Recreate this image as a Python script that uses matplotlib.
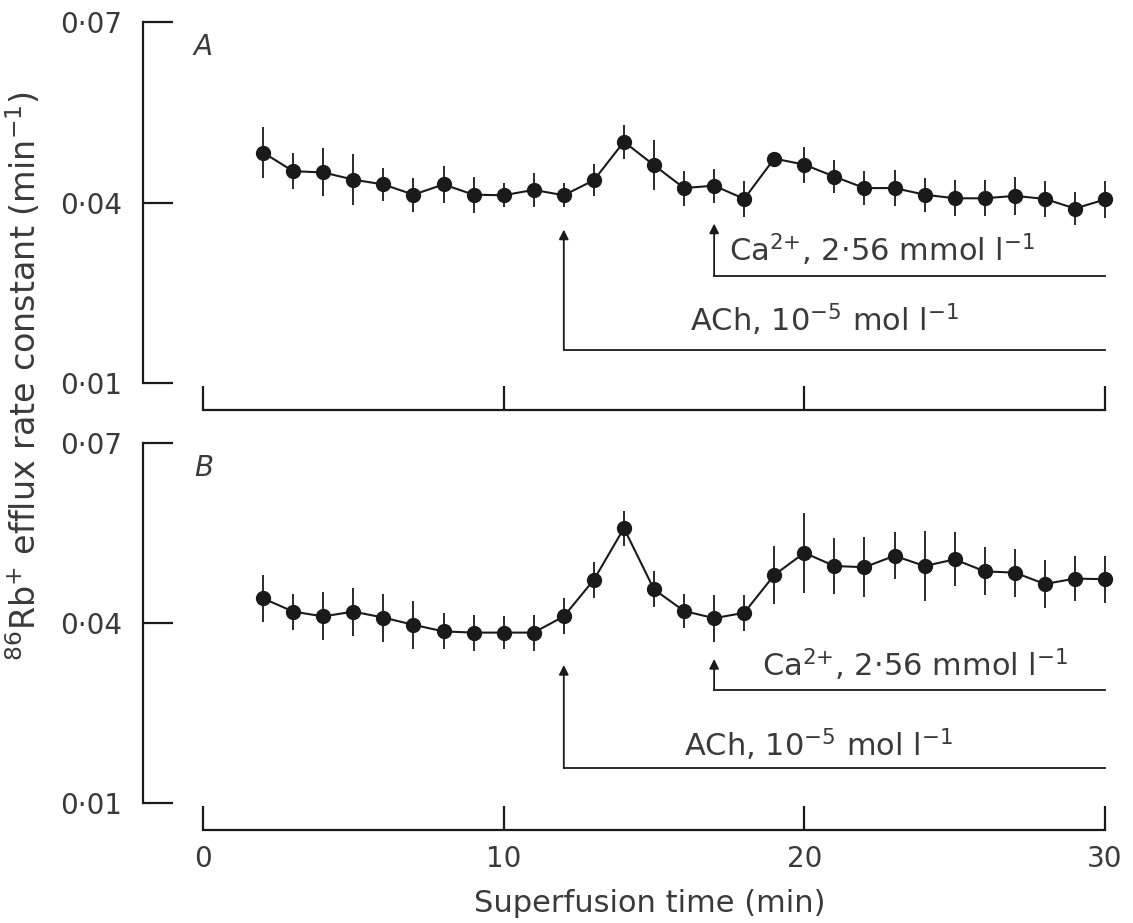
import matplotlib
matplotlib.use("Agg")
import matplotlib.pyplot as plt
import numpy as np

plt.rcParams['font.family'] = ['DejaVu Sans']
plt.rcParams['mathtext.default'] = 'regular'

# ---- data ----
time_min = list(range(2, 31))
rate_A = [0.0483, 0.0452, 0.0450, 0.0438, 0.0430, 0.0413, 0.0430, 0.0413, 0.0412,
          0.0421, 0.0412, 0.0437, 0.0501, 0.0462, 0.0424, 0.0428, 0.0406, 0.0473,
          0.0463, 0.0443, 0.0424, 0.0424, 0.0413, 0.0407, 0.0407, 0.0411, 0.0406,
          0.0390, 0.0405]
err_A = [0.0042, 0.0030, 0.0040, 0.0042, 0.0028, 0.0028, 0.0030, 0.0030, 0.0020,
         0.0028, 0.0020, 0.0027, 0.0028, 0.0042, 0.0029, 0.0028, 0.0030, 0.0000,
         0.0030, 0.0028, 0.0028, 0.0030, 0.0028, 0.0030, 0.0030, 0.0032, 0.0030,
         0.0028, 0.0030]
rate_B = [0.0441, 0.0419, 0.0411, 0.0419, 0.0409, 0.0397, 0.0386, 0.0384, 0.0384,
          0.0384, 0.0411, 0.0472, 0.0558, 0.0456, 0.0420, 0.0408, 0.0417, 0.0480,
          0.0517, 0.0495, 0.0493, 0.0512, 0.0495, 0.0506, 0.0486, 0.0484, 0.0465,
          0.0474, 0.0473]
err_B = [0.0039, 0.0030, 0.0040, 0.0040, 0.0040, 0.0040, 0.0030, 0.0030, 0.0028,
         0.0030, 0.0030, 0.0030, 0.0029, 0.0030, 0.0028, 0.0039, 0.0030, 0.0049,
         0.0067, 0.0047, 0.0050, 0.0039, 0.0059, 0.0045, 0.0040, 0.0040, 0.0040,
         0.0038, 0.0039]

x_ticks = [0, 10, 20, 30]
y_ticks = [0.01, 0.04, 0.07]
y_ticklabels = ['0·01', '0·04', '0·07']
panel_labels = ['A', 'B']

ach_time = 12
ca_time = 17
end_time = 30
ach_text = r'ACh, 10$^{-5}$ mol l$^{-1}$'
ca_text = r'Ca$^{2{+}}$, 2·56 mmol l$^{-1}$'

# annotation geometry per panel: (ach_line_y, ach_tip_y, ach_text_x, ach_text_y,
#                                  ca_line_y, ca_tip_y, ca_text_x, ca_text_y)
ann_A = (0.0155, 0.0355, 16.2, 0.0205, 0.0278, 0.0365, 17.5, 0.0322)
ann_B = (0.0158, 0.0330, 16.0, 0.0197, 0.0288, 0.0340, 18.6, 0.0330)

W, H = 1133, 923
fig = plt.figure(figsize=(W / 100, H / 100), dpi=100)

def fx(px):
    return px / W

def fy(py):
    return 1 - py / H

axA = fig.add_axes([fx(203), fy(383), fx(1105) - fx(203), fy(22) - fy(383)])
axB = fig.add_axes([fx(203), fy(803), fx(1105) - fx(203), fy(443) - fy(803)])

ink = '#1a1a1a'
txt = '#3a3a3a'
fs = 20
fs_ann = 22

for ax, rate, err, lab, ann in [(axA, rate_A, err_A, panel_labels[0], ann_A),
                                (axB, rate_B, err_B, panel_labels[1], ann_B)]:
    ax.errorbar(time_min, rate, yerr=err, fmt='o-', color=ink, ecolor=ink,
                markersize=10, linewidth=1.5, elinewidth=1.3, capsize=0,
                clip_on=False, zorder=3)
    ax.set_xlim(0, 30)
    ax.set_ylim(0.01, 0.07)
    for s in ['top', 'right']:
        ax.spines[s].set_visible(False)
    ax.spines['left'].set_position(('outward', 43))
    ax.spines['bottom'].set_position(('outward', 19.5))
    for s in ['left', 'bottom']:
        ax.spines[s].set_linewidth(1.6)
        ax.spines[s].set_color(ink)
    ax.set_yticks(y_ticks)
    ax.set_yticklabels(y_ticklabels)
    ax.set_xticks(x_ticks)
    ax.tick_params(axis='y', direction='in', length=21.5, width=1.6, pad=15,
                   labelsize=fs, colors=ink, labelcolor=txt)
    ax.tick_params(axis='x', direction='in', length=17, width=1.6, pad=11,
                   labelsize=fs, colors=ink, labelcolor=txt)
    ax.text(-0.3, 0.0658, lab, fontsize=fs, style='italic', color=txt,
            ha='left', va='center')

    ach_line, ach_tip, ach_tx, ach_ty, ca_line, ca_tip, ca_tx, ca_ty = ann
    # ACh bracket
    ax.plot([ach_time, end_time], [ach_line, ach_line], color=ink, lw=1.3,
            clip_on=False)
    ax.annotate('', xy=(ach_time, ach_tip), xytext=(ach_time, ach_line),
                arrowprops=dict(arrowstyle='-|>', color=ink, lw=1.3,
                                mutation_scale=14, shrinkA=0, shrinkB=0))
    ax.text(ach_tx, ach_ty, ach_text, fontsize=fs_ann, color=txt,
            ha='left', va='center')
    # Ca bracket
    ax.plot([ca_time, end_time], [ca_line, ca_line], color=ink, lw=1.3,
            clip_on=False)
    ax.annotate('', xy=(ca_time, ca_tip), xytext=(ca_time, ca_line),
                arrowprops=dict(arrowstyle='-|>', color=ink, lw=1.3,
                                mutation_scale=14, shrinkA=0, shrinkB=0))
    ax.text(ca_tx, ca_ty, ca_text, fontsize=fs_ann, color=txt,
            ha='left', va='center')

axA.set_xticklabels([])
axB.set_xticklabels([str(t) for t in x_ticks])

fig.text(fx(650), fy(903), 'Superfusion time (min)', fontsize=22,
         color=txt, ha='center', va='center')
fig.text(fx(24), fy(376), r'$^{86}$Rb$^{+}$ efflux rate constant (min$^{-1}$)',
         fontsize=24, color=txt, ha='center', va='center', rotation=90)

fig.savefig('out.png', dpi=100, facecolor='white')
